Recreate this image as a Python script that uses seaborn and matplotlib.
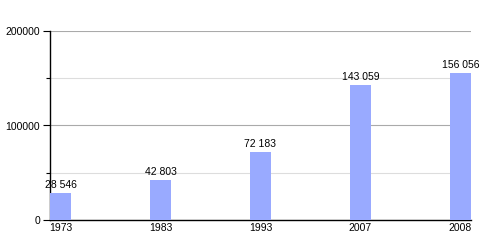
import matplotlib
matplotlib.use("Agg")
import matplotlib.pyplot as plt
import seaborn as sns
import pandas as pd
from matplotlib.ticker import MultipleLocator

years = ["1973", "1983", "1993", "2007", "2008"]
values = [28546, 42803, 72183, 143059, 156056]
labels = ["28 546", "42 803", "72 183", "143 059", "156 056"]

sns.set_style("white")
plt.rcParams['font.family'] = ['Liberation Sans', 'DejaVu Sans']
plt.rcParams['text.color'] = 'black'
plt.rcParams['xtick.color'] = 'black'
plt.rcParams['ytick.color'] = 'black'

df = pd.DataFrame({"year": years, "value": values})
fig = plt.figure(figsize=(5, 2.5), dpi=100)
ax = fig.add_axes([0.1, 0.12, 0.842, 0.756])
sns.barplot(data=df, x="year", y="value", color="#99aaff", saturation=1,
            width=0.21, ax=ax, zorder=3, linewidth=0, edgecolor="none")
ax.set_xlim(-0.105, 4.105)
ax.set_ylim(0, 200000)
ax.yaxis.set_major_locator(MultipleLocator(100000))
ax.yaxis.set_minor_locator(MultipleLocator(50000))
ax.grid(True, which="major", axis="y", color="#aaaaaa", linewidth=0.8, zorder=0)
ax.grid(True, which="minor", axis="y", color="#dddddd", linewidth=0.8, zorder=0)
ax.set_axisbelow(True)
for s in ["top", "right"]:
    ax.spines[s].set_visible(False)
for s in ["left", "bottom"]:
    ax.spines[s].set_color("black")
    ax.spines[s].set_linewidth(1)
ax.tick_params(axis="y", which="major", direction="out", length=5, width=0.8,
               color="black", labelsize=7.5, labelcolor="black", pad=2, left=True)
ax.tick_params(axis="y", which="minor", direction="out", length=3, width=0.8,
               color="black", left=True)
ax.tick_params(axis="x", length=0, labelsize=7.5, labelcolor="black", pad=2)
ax.set_xlabel("")
ax.set_ylabel("")
for i, (v, lab) in enumerate(zip(values, labels)):
    ax.annotate(lab, (i, v), xytext=(0, 2), textcoords="offset points",
                ha="center", va="bottom", fontsize=7.5, color="black", zorder=5)
fig.savefig("out.png", dpi=100)
